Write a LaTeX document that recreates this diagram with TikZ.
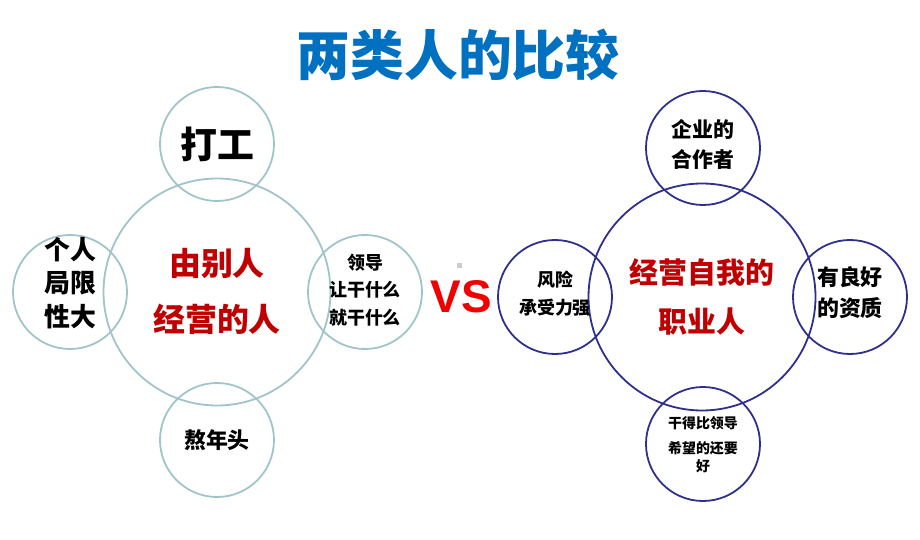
\documentclass[tikz,border=0pt]{standalone}
\usepackage{fontspec}
\newfontfamily\cjk{Noto Sans CJK SC}
\newfontfamily\lat{Liberation Sans}

\definecolor{titleblue}{RGB}{0,112,192}
\definecolor{darkred}{RGB}{192,0,0}
\definecolor{vsred}{RGB}{240,0,0}
\definecolor{ringgray}{RGB}{160,196,202}
\definecolor{ringnavy}{RGB}{46,48,140}

\tikzset{
  ring/.style={circle, draw=#1, line width=1.8bp, inner sep=0pt},
  small/.style={minimum size=114bp},
  big/.style={minimum size=227bp},
  txt/.style 2 args={font=\cjk\bfseries\fontsize{#1}{#2}\selectfont, align=center, inner sep=0pt}
}

\begin{document}
\begin{tikzpicture}[x=1bp, y=-1bp]
  % --- Cornice ---
  \useasboundingbox (0,0) rectangle (920,540);

  % --- Titolo ---
  \node[txt={54}{54}, text=titleblue] (titolo) at (458,55) {两类人的比较};

  % --- Gruppo sinistro ---
  \node[ring=ringgray, big]   (sx)     at (217,292) {};
  \node[ring=ringgray, small] (sxsu)   at (217,144) {};
  \node[ring=ringgray, small] (sxsin)  at (70,292)  {};
  \node[ring=ringgray, small] (sxdes)  at (365,292) {};
  \node[ring=ringgray, small] (sxgiu)  at (217,440) {};

  \node[txt={32}{57}, text=darkred] (sxtesto) at (217,291.5) {由别人\\经营的人};
  \node[txt={37}{37}] (dagong)  at (217,144) {打工};
  \node[txt={26}{33.5}] (jubu)  at (70,283)  {个人\\局限\\性大};
  \node[txt={18}{27.5}] (lingdao) at (365,290) {领导\\让干什么\\就干什么};
  \node[txt={22}{22}] (aonian)  at (217,440) {熬年头};

  % --- VS ---
  \node[font=\lat\bfseries\fontsize{46}{46}\selectfont, text=vsred, inner sep=0pt] (vs) at (461.5,297) {VS};
  \fill[black!20] (456.5,263.5) rectangle (461.5,268.5);

  % --- Gruppo destro ---
  \node[ring=ringnavy, big]   (dx)     at (702,297) {};
  \node[ring=ringnavy, small] (dxsu)   at (703,148) {};
  \node[ring=ringnavy, small] (dxsin)  at (555,297) {};
  \node[ring=ringnavy, small] (dxdes)  at (850,297) {};
  \node[ring=ringnavy, small] (dxgiu)  at (703,444) {};

  \node[txt={29}{50}, text=darkred] (dxtesto) at (702,297) {经营自我的\\职业人};
  \node[txt={21}{31}] (hezuo)   at (703,144.5) {企业的\\合作者};
  \node[txt={18}{28}] (fengxian) at (555,294) {风险\\承受力强};
  \node[txt={22}{31}] (zizhi)   at (850,292.5) {有良好\\的资质};
  \node[txt={14}{18}] (lingdaodx) at (703,444.5) {干得比领导\\[7bp]希望的还要\\好};
\end{tikzpicture}
\end{document}
